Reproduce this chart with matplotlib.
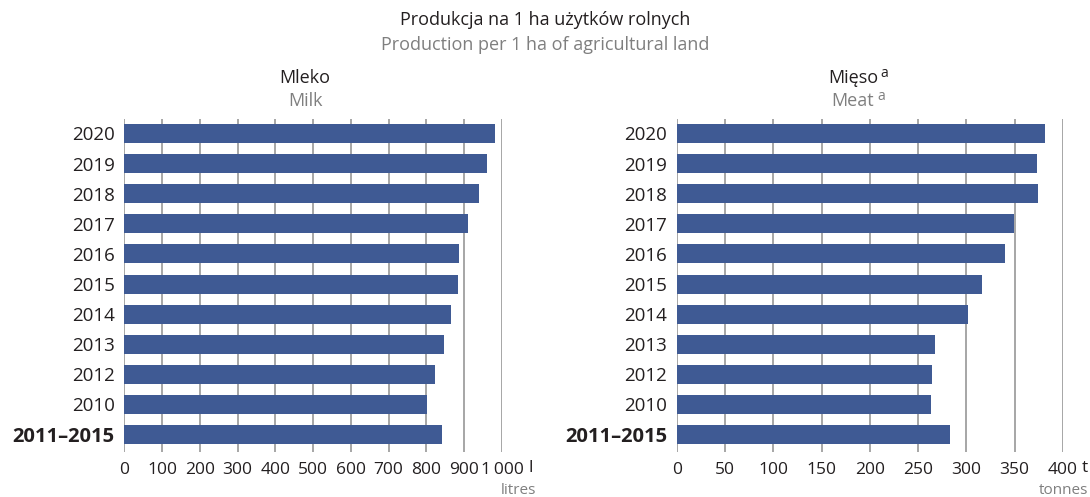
import matplotlib.pyplot as plt
import numpy as np

plt.rcParams['font.family'] = ['Open Sans', 'DejaVu Sans']

years = ['2011–2015', '2010', '2012', '2013', '2014', '2015', '2016', '2017', '2018', '2019', '2020']
milk = [842, 801, 823, 847, 866, 884, 887, 911, 940, 961, 982]
meat = [283, 263.5, 264.5, 267.5, 302, 316, 340, 349.5, 374, 373, 381]

milk_ticks = [0, 100, 200, 300, 400, 500, 600, 700, 800, 900, 1000]
milk_ticklabels = ['0', '100', '200', '300', '400', '500', '600', '700', '800', '900', '1\u2009000']
meat_ticks = [0, 50, 100, 150, 200, 250, 300, 350, 400]
meat_ticklabels = ['0', '50', '100', '150', '200', '250', '300', '350', '400']

bar_col = '#3f5a94'
grid_col = '#979797'
txt_col = '#231f20'
grey_txt = '#7f7f7f'

fig = plt.figure(figsize=(10.9, 4.97), dpi=100)
ax1 = fig.add_axes([0.114, 0.0905, 0.3465, 0.670])
ax2 = fig.add_axes([0.6208, 0.0905, 0.3544, 0.670])


def panel(ax, vals, ticks, ticklabels, xmax):
    y = np.arange(len(years))
    ax.barh(y, vals, height=0.63, color=bar_col, zorder=3)
    ax.set_xlim(0, xmax)
    ax.set_ylim(-0.58, 10.48)
    ax.set_xticks(ticks)
    ax.set_xticklabels(ticklabels, fontsize=12.5, color=txt_col)
    ax.set_yticks(y)
    ax.set_yticklabels(years, fontsize=13.5, color=txt_col)
    lab = ax.get_yticklabels()[0]
    lab.set_fontweight('bold')
    lab.set_fontsize(14.5)
    for t in ticks:
        ax.axvline(t, color=grid_col, lw=1.2, zorder=1)
    for s in ax.spines.values():
        s.set_visible(False)
    ax.tick_params(axis='both', length=0)
    ax.tick_params(axis='x', pad=7)
    ax.tick_params(axis='y', pad=7)


panel(ax1, milk, milk_ticks, milk_ticklabels, 1000)
panel(ax2, meat, meat_ticks, meat_ticklabels, 400)

# unit labels
fig.text(529 / 1090, 1 - 468 / 497, 'l', fontsize=12.5, color=txt_col, ha='left', va='center')
fig.text(536 / 1090, 1 - 490 / 497, 'litres', fontsize=11, color=grey_txt, ha='right', va='center')
fig.text(1082 / 1090, 1 - 468 / 497, 't', fontsize=12.5, color=txt_col, ha='left', va='center')
fig.text(1088 / 1090, 1 - 490 / 497, 'tonnes', fontsize=11, color=grey_txt, ha='right', va='center')

# titles
fig.text(0.5, 1 - 20 / 497, 'Produkcja na 1 ha użytków rolnych', fontsize=13, color=txt_col,
         ha='center', va='center')
fig.text(0.5, 1 - 45 / 497, 'Production per 1 ha of agricultural land', fontsize=13, color=grey_txt,
         ha='center', va='center')

fig.text(305 / 1090, 1 - 78 / 497, 'Mleko', fontsize=13, color=txt_col, ha='center', va='center')
fig.text(305 / 1090, 1 - 101 / 497, 'Milk', fontsize=13, color=grey_txt, ha='center', va='center')

t1 = fig.text(853 / 1090, 1 - 78 / 497, 'Mięso', fontsize=13, color=txt_col, ha='center', va='center')
t2 = fig.text(853 / 1090, 1 - 101 / 497, 'Meat', fontsize=13, color=grey_txt, ha='center', va='center')
plt.annotate('a', xy=(1, 0.75), xycoords=t1, xytext=(2, 0), textcoords='offset points',
             fontsize=10, color=txt_col, ha='left', va='center')
plt.annotate('a', xy=(1, 0.75), xycoords=t2, xytext=(2, 0), textcoords='offset points',
             fontsize=10, color=grey_txt, ha='left', va='center')

fig.savefig('out.png', dpi=100)
